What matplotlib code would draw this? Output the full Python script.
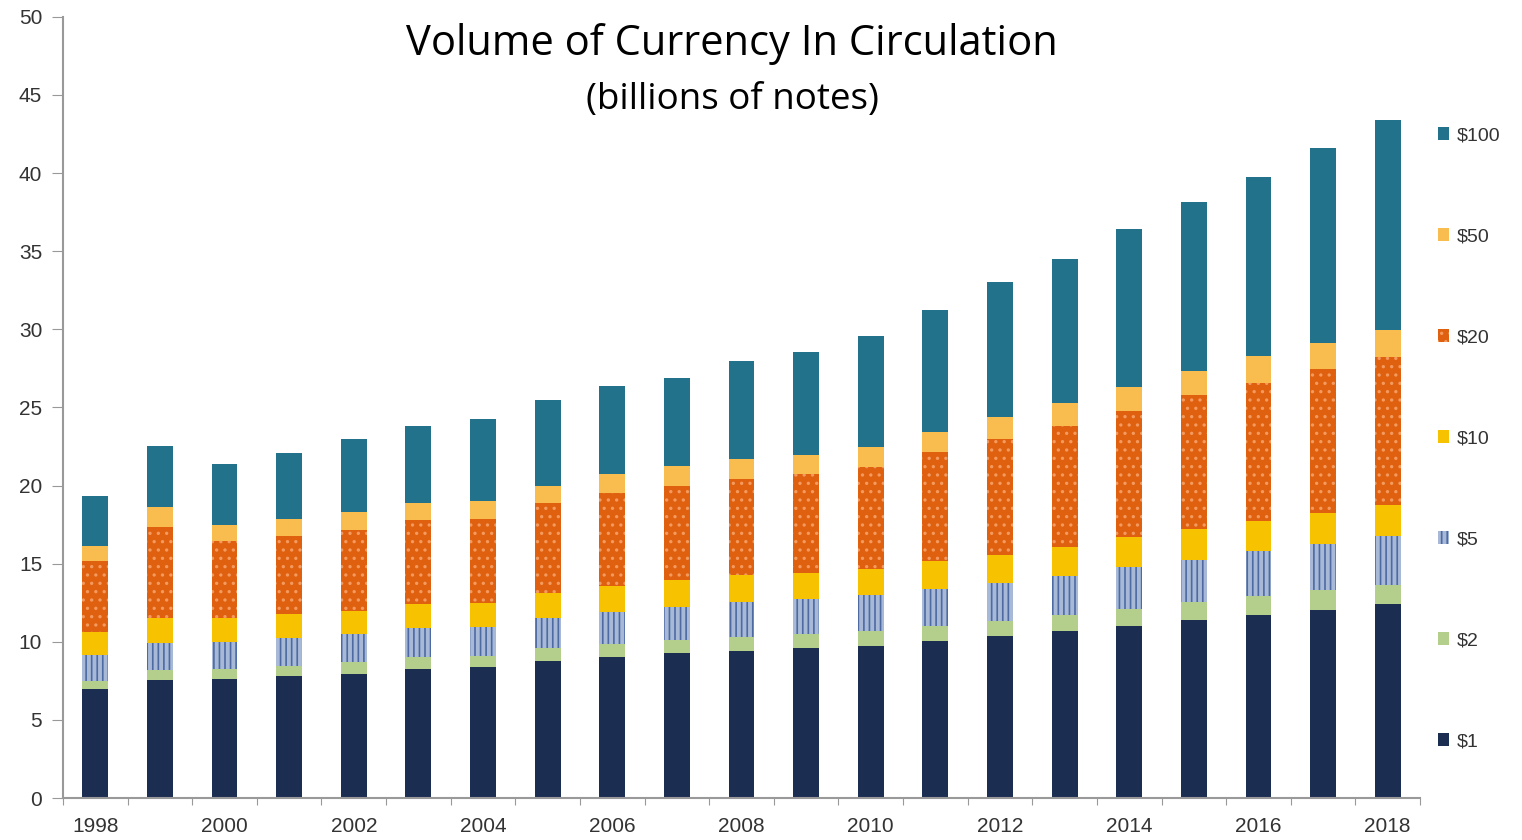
import numpy as np
import matplotlib
matplotlib.use('Agg')
import matplotlib.pyplot as plt

# Data (billions of notes)
years = list(range(1998, 2019))
denoms = ['$1', '$2', '$5', '$10', '$20', '$50', '$100']

usd1 = [7.0, 7.55, 7.6, 7.8, 7.95, 8.25, 8.4, 8.75, 9.0, 9.3, 9.4,
        9.6, 9.75, 10.05, 10.35, 10.7, 11.0, 11.4, 11.7, 12.05, 12.4]
usd2 = [0.5, 0.65, 0.65, 0.65, 0.75, 0.75, 0.7, 0.85, 0.85, 0.8, 0.9,
        0.9, 0.95, 0.95, 1.0, 1.0, 1.1, 1.15, 1.2, 1.25, 1.25]
usd5 = [1.65, 1.7, 1.75, 1.8, 1.8, 1.9, 1.85, 1.9, 2.05, 2.1, 2.25,
        2.25, 2.3, 2.4, 2.4, 2.5, 2.7, 2.7, 2.9, 2.95, 3.15]
usd10 = [1.45, 1.6, 1.5, 1.55, 1.5, 1.5, 1.55, 1.6, 1.65, 1.75, 1.75,
         1.65, 1.65, 1.75, 1.8, 1.85, 1.9, 1.95, 1.9, 2.0, 1.95]
usd20 = [4.6, 5.85, 4.95, 5.0, 5.15, 5.4, 5.35, 5.8, 5.95, 6.05, 6.1,
         6.35, 6.55, 7.0, 7.45, 7.75, 8.1, 8.6, 8.85, 9.2, 9.45]
usd50 = [0.9, 1.25, 1.05, 1.05, 1.15, 1.1, 1.15, 1.1, 1.25, 1.25, 1.3,
         1.2, 1.25, 1.25, 1.4, 1.5, 1.5, 1.5, 1.75, 1.65, 1.75]
usd100 = [3.2, 3.9, 3.9, 4.25, 4.7, 4.9, 5.25, 5.5, 5.65, 5.65, 6.3,
          6.6, 7.15, 7.85, 8.6, 9.2, 10.15, 10.85, 11.45, 12.5, 13.45]

series = [usd1, usd2, usd5, usd10, usd20, usd50, usd100]
colors = ['#1c2d52', '#b4cf8c', '#a7b9d6', '#f7c200', '#df600e', '#f8bd4e', '#23728b']
hatch_colors = [None, None, '#4d6aa3', None, '#f49a5e', None, None]
hatches = [None, None, '|||', None, '..', None, None]

plt.rcParams['hatch.linewidth'] = 1.2

fig = plt.figure(figsize=(15.22, 8.4), dpi=100)
ax = fig.add_axes([0.0414, 0.05, 0.8916, 0.93])

bottom = np.zeros(len(years))
handles = []
for vals, lab, c, hc, h in zip(series, denoms, colors, hatch_colors, hatches):
    vals = np.array(vals)
    b = ax.bar(years, vals, width=0.4, bottom=bottom, color=c,
               edgecolor=hc if hc else c, hatch=h, linewidth=0, label=lab)
    handles.append(b)
    bottom += vals

ax.set_xlim(1997.5, 2018.5)
ax.set_ylim(0, 50)
ax.set_yticks(range(0, 51, 5))

# ticks between the bars, labels under every other bar
ax.set_xticks(np.arange(1997.5, 2019, 1))
ax.set_xticklabels([])
ax.set_xticks(range(1998, 2019, 2), minor=True)
ax.set_xticklabels([str(y) for y in range(1998, 2019, 2)], minor=True)
ax.tick_params(axis='x', which='minor', length=0, pad=14)
ax.tick_params(axis='x', which='major', length=5, color='#999999', direction='out')
ax.tick_params(axis='y', length=8, color='#999999', pad=7)
for lbl in ax.get_xticklabels(minor=True) + ax.get_yticklabels():
    lbl.set_fontfamily('Liberation Sans')
    lbl.set_fontsize(15)
    lbl.set_color('#333333')

for s in ['top', 'right']:
    ax.spines[s].set_visible(False)
for s in ['left', 'bottom']:
    ax.spines[s].set_color('#999999')
    ax.spines[s].set_linewidth(1.5)

leg = ax.legend(handles[::-1], denoms[::-1], loc='upper left',
                bbox_to_anchor=(1.0, 0.881), frameon=False,
                labelspacing=4.32, handlelength=0.6, handleheight=0.6,
                handletextpad=0.4,
                prop={'family': 'Liberation Sans', 'size': 14})
for t in leg.get_texts():
    t.set_color('#333333')

fig.text(0.481, 0.948, 'Volume of Currency In Circulation', ha='center', va='center',
         fontsize=30, family='Open Sans')
fig.text(0.481, 0.881, '(billions of notes)', ha='center', va='center',
         fontsize=26.5, family='Open Sans')

fig.savefig('out.png', dpi=100)
